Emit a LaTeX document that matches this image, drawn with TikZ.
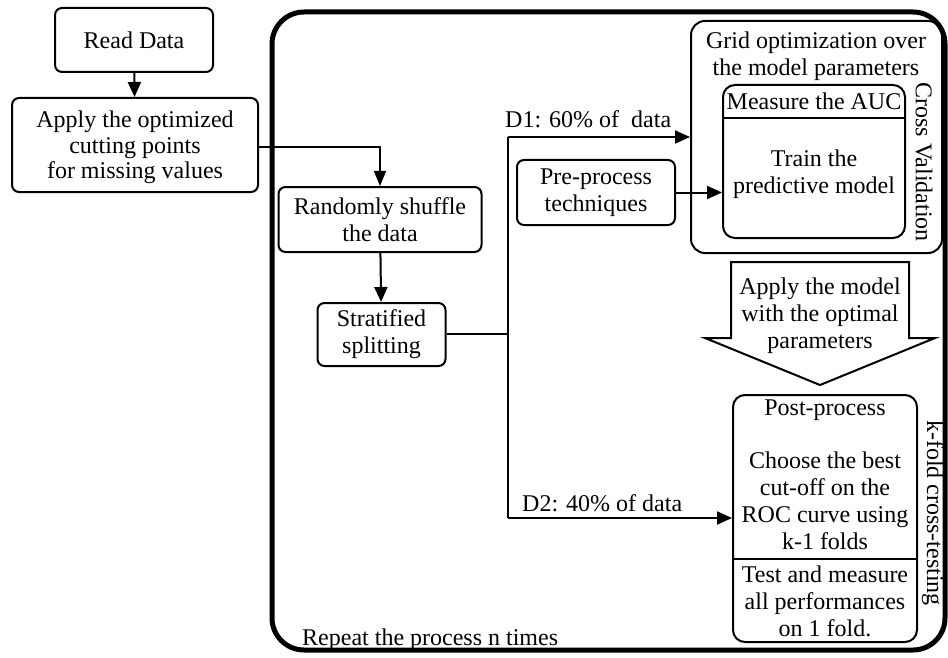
\documentclass[tikz,border=0pt]{standalone}
\usepackage{fontspec}
\setmainfont{Liberation Serif}
\usetikzlibrary{arrows.meta,calc}

\tikzset{
  stepbox/.style={draw, line width=2pt, rounded corners=7pt, align=center,
    inner sep=0pt, font=\fontsize{24}{27}\selectfont},
  loopframe/.style={draw, line width=5pt, rounded corners=32pt, inner sep=0pt},
  label/.style={inner sep=0pt, align=center, font=\fontsize{24}{27}\selectfont},
  flow/.style={line width=2pt, -{Triangle[length=15pt,width=13pt]}},
  thinflow/.style={line width=1.1pt, -{Triangle[length=15pt,width=12pt]}},
  wire/.style={line width=2pt},
}

\begin{document}
\begin{tikzpicture}[x=1pt, y=-1pt]
\useasboundingbox (0,0) rectangle (948,658);

% outer repeat loop
\node[loopframe, minimum width=673pt, minimum height=638pt] (loop) at (608.5,331) {};
\node[label, anchor=west] (repeat) at (302,640) {Repeat the process n times};

% left column
\node[stepbox, minimum width=158pt, minimum height=64pt] (read) at (134,40) {Read Data};
\node[stepbox, minimum width=246pt, minimum height=94pt] (apply) at (135,145) {};
\node[label] at (135,122) {Apply the optimized};
\node[label] at (135,148) {cutting points};
\node[label] at (135,173) {for missing values};

% shuffle and split
\node[stepbox, minimum width=203pt, minimum height=65pt] (shuffle) at (380,219.5)
  {Randomly shuffle\\the data};
\node[stepbox, minimum width=128pt, minimum height=63pt] (strat) at (381.5,334.5)
  {Stratified\\splitting};

\coordinate (split) at (508,334);
\coordinate (d1) at (508,137);
\coordinate (d2) at (508,518);

% cross validation block
\node[stepbox, rounded corners=14pt, minimum width=251pt, minimum height=232pt] (grid) at (816.5,137) {};
\node[label] (gridtxt) at (816,56) {Grid optimization over\\the model parameters};
\node[stepbox, rounded corners=12pt, minimum width=182pt, minimum height=153pt] (measure) at (814,161.5) {};
\draw[line width=2pt] (measure.west |- 0,118) -- (measure.east |- 0,118);
\node[label] at (814,101) {Measure the AUC};
\node[label] at (814,174) {Train the\\predictive model};
\node[label, rotate=-90] (cv) at (924,162) {Cross Validation};

\node[stepbox, minimum width=158pt, minimum height=65pt] (pre) at (596,192.5)
  {Pre-process\\techniques};

% block arrow to the testing stage
\draw[line width=2pt, line join=miter]
  (731,262) -- (909,262) -- (909,338) -- (935,338) -- (820,385)
  -- (705,338) -- (731,338) -- cycle;
\node[label] (applymodel) at (820,316) {Apply the model\\with the optimal\\parameters};

% testing stage
\node[stepbox, rounded corners=12pt, minimum width=184pt, minimum height=247pt] (post) at (825,518.5) {};
\draw[line width=2pt] (post.west |- 0,559) -- (post.east |- 0,559);
\node[label] at (825,410) {Post-process};
\node[label] at (825,501) {Choose the best\\cut-off on the\\ROC curve using\\k-1 folds};
\node[label] at (825,601) {Test and measure\\all performances\\on 1 fold.};
\node[label, rotate=-90] (kfold) at (933,513) {k-fold cross-testing};

% connectors
\draw[flow] (read) -- (apply);
\draw[thinflow] ($(apply.east)+(0,2)$) -| (shuffle.north);
\draw[flow] (shuffle) -- (strat);
\draw[wire] (strat.east |- split) -- (split);
\draw[wire] (d1) -- (d2);
\draw[flow] (d1) -- (grid.west |- d1);
\draw[flow] (d2) -- (post.west |- d2);
\draw[flow] (pre.east) -- (measure.west |- pre.east);

\node[label, anchor=south west] (d1lbl) at (505,128) {D1: 60\% of\ \ data};
\node[label, anchor=south west] (d2lbl) at (522,512) {D2: 40\% of data};
\end{tikzpicture}
\end{document}
